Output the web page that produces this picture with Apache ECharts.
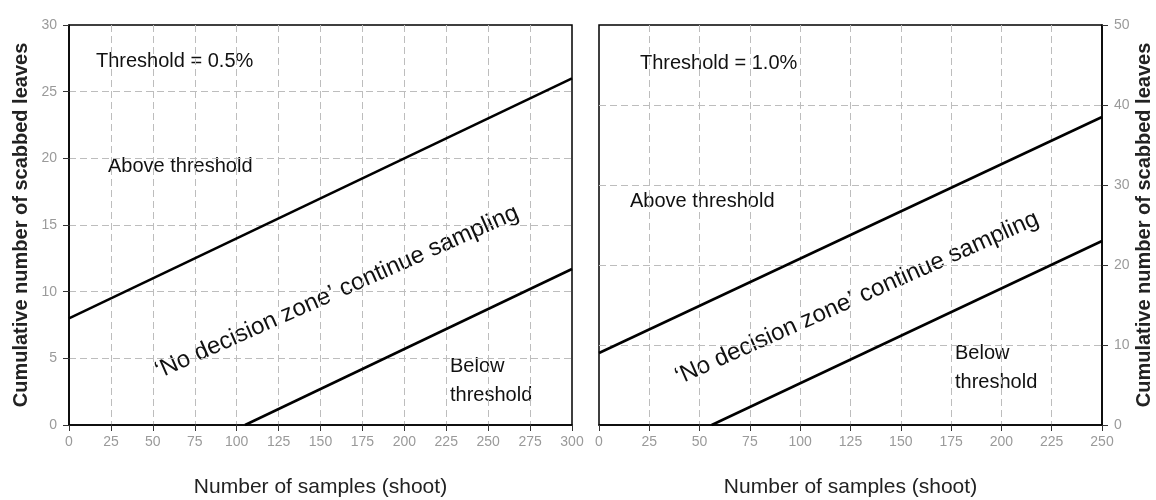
<!DOCTYPE html>
<html><head><meta charset="utf-8">
<script src="https://cdn.jsdelivr.net/npm/echarts@6/dist/echarts.min.js"></script>
<style>html,body{margin:0;padding:0;background:#fff}#c{width:1156px;height:500px}</style>
</head><body><div id="c"></div>
<script>
// ---- data ----
const leftUpperX = [0, 300];
const leftUpperY = [8, 26];
const leftLowerX = [105, 300];
const leftLowerY = [0, 11.7];
const rightUpperX = [0, 250];
const rightUpperY = [9, 38.5];
const rightLowerX = [56, 250];
const rightLowerY = [0, 23];
const xAxisTitle = 'Number of samples (shoot)';
const yAxisTitle = 'Cumulative number of scabbed leaves';
const leftLabels = ['Threshold = 0.5%', 'Above threshold', '\u2018No decision zone\u2019 continue sampling', 'Below', 'threshold'];
const rightLabels = ['Threshold = 1.0%', 'Above threshold', '\u2018No decision zone\u2019 continue sampling', 'Below', 'threshold'];

const FONT = '"Liberation Sans", Arial, sans-serif';
const pairs = (xs, ys) => xs.map((x, i) => [x, ys[i]]);

const gridLine = { show: true, showMinLine: false, showMaxLine: false, lineStyle: { color: '#bdbdbd', type: [7, 4], width: 1 } };
const axisLineS = { show: true, onZero: false, lineStyle: { color: '#000', width: 1.5 } };
const tickS = { show: true, length: 6, lineStyle: { color: '#333', width: 1 } };
const labS = { color: '#9a9a9a', fontSize: 14, fontFamily: FONT };

function xAx(gi, max) {
  return {
    type: 'value', gridIndex: gi, min: 0, max: max, interval: 25,
    axisLine: axisLineS, axisTick: tickS, splitLine: gridLine,
    axisLabel: Object.assign({ margin: 10, showMinLabel: true, showMaxLabel: true }, labS),
    name: xAxisTitle, nameLocation: 'middle', nameGap: 52,
    nameTextStyle: { fontSize: 21, color: '#222', fontFamily: FONT }
  };
}
function yAx(gi, max, interval, pos, gap) {
  return {
    type: 'value', gridIndex: gi, min: 0, max: max, interval: interval, position: pos,
    axisLine: axisLineS, axisTick: tickS, splitLine: gridLine,
    axisLabel: Object.assign({ margin: 12 }, labS),
    name: yAxisTitle, nameLocation: 'middle', nameGap: gap, nameRotate: 90,
    nameTextStyle: { fontSize: 20, fontWeight: 'bold', color: '#222', fontFamily: FONT }
  };
}
function lineSeries(xi, data) {
  return {
    type: 'line', xAxisIndex: xi, yAxisIndex: xi, data: data, symbol: 'none',
    lineStyle: { color: '#000', width: 2.5 }, silent: true, animation: false
  };
}
function txt(t, x, y, size, opts) {
  return Object.assign({
    type: 'text', x: x, y: y, silent: true,
    style: { text: t, font: 'normal ' + size + 'px ' + FONT, fill: '#111',
             align: 'left', verticalAlign: 'middle' }
  }, opts || {});
}
const rot = 24 * Math.PI / 180;

const chart = echarts.init(document.getElementById('c'));
chart.setOption({
  animation: false,
  backgroundColor: '#fff',
  grid: [
    { left: 69, top: 25, width: 503, height: 400, show: true, borderColor: '#000', borderWidth: 1.5, containLabel: false, outerBoundsMode: 'none' },
    { left: 599, top: 25, width: 503, height: 400, show: true, borderColor: '#000', borderWidth: 1.5, containLabel: false, outerBoundsMode: 'none' }
  ],
  xAxis: [xAx(0, 300), xAx(1, 250)],
  yAxis: [yAx(0, 30, 5, 'left', 38), yAx(1, 50, 10, 'right', 32)],
  series: [
    lineSeries(0, pairs(leftUpperX, leftUpperY)),
    lineSeries(0, pairs(leftLowerX, leftLowerY)),
    lineSeries(1, pairs(rightUpperX, rightUpperY)),
    lineSeries(1, pairs(rightLowerX, rightLowerY))
  ],
  graphic: [
    txt(leftLabels[0], 96, 61, 20),
    txt(leftLabels[1], 108, 166, 20),
    { type: 'text', x: 337, y: 292, rotation: rot, silent: true,
      style: { text: leftLabels[2], font: 'normal 24px ' + FONT, fill: '#111', align: 'center', verticalAlign: 'middle' } },
    txt(leftLabels[3], 450, 366, 20),
    txt(leftLabels[4], 450, 395, 20),
    txt(rightLabels[0], 640, 63, 20),
    txt(rightLabels[1], 630, 201, 20),
    { type: 'text', x: 857, y: 298, rotation: rot, silent: true,
      style: { text: rightLabels[2], font: 'normal 24px ' + FONT, fill: '#111', align: 'center', verticalAlign: 'middle' } },
    txt(rightLabels[3], 955, 353, 20),
    txt(rightLabels[4], 955, 382, 20)
  ]
});
</script>
</body></html>
